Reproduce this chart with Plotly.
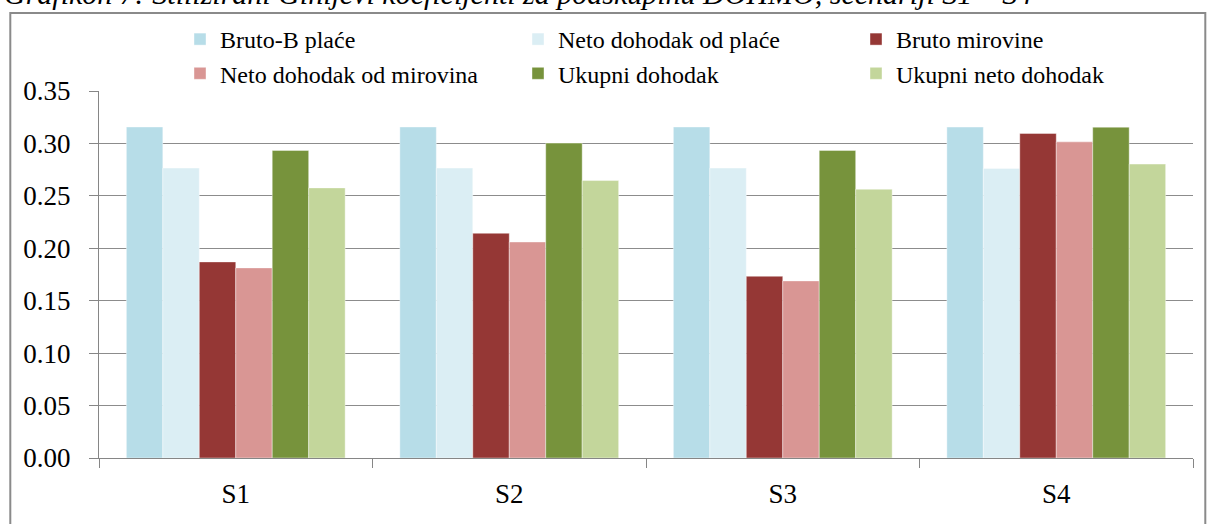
import plotly.graph_objects as go

categories = ["S1", "S2", "S3", "S4"]
series_names = [
    "Bruto-B plaće",
    "Neto dohodak od plaće",
    "Bruto mirovine",
    "Neto dohodak od mirovina",
    "Ukupni dohodak",
    "Ukupni neto dohodak",
]
bruto_b_place = [0.3157, 0.3157, 0.3157, 0.3156]
neto_place = [0.2765, 0.2765, 0.2765, 0.2762]
bruto_mirovine = [0.1870, 0.2143, 0.1733, 0.3095]
neto_mirovine = [0.1813, 0.2060, 0.1689, 0.3015]
ukupni = [0.2933, 0.3003, 0.2933, 0.3155]
ukupni_neto = [0.2576, 0.2646, 0.2563, 0.2803]
colors = ["#B7DDE8", "#DBEEF4", "#953735", "#D99694", "#77933C", "#C3D69B"]
title_text = "Grafikon 7: Stilizirani Ginijevi koeficijenti za podskupinu DOHMO, scenariji S1 – S4"

values = [bruto_b_place, neto_place, bruto_mirovine, neto_mirovine, ukupni, ukupni_neto]

fig = go.Figure()
for name, vals, col in zip(series_names, values, colors):
    fig.add_trace(go.Bar(
        x=categories, y=vals, name=name,
        marker=dict(color=col, line=dict(color="rgba(255,255,255,0.5)", width=0.8)),
    ))

W, H = 1212, 524
L, R, T, B = 98.7, 19.3, 90.7, 65.7
pw, ph = W - L - R, H - T - B

def px_x(x):
    return (x - L) / pw

def px_y(y):
    return 1 - (y - T) / ph

serif = "Liberation Serif"

fig.update_layout(
    width=W, height=H,
    margin=dict(l=L, r=R, t=T, b=B, autoexpand=False),
    paper_bgcolor="white", plot_bgcolor="white",
    barmode="group", bargap=0.2, bargroupgap=0,
    font=dict(family=serif, color="black", size=24),
    legend=dict(
        orientation="h", xref="container", yref="container",
        x=180 / W, y=1 - 17 / H, xanchor="left", yanchor="top",
        entrywidth=293, entrywidthmode="pixels", itemwidth=30,
        font=dict(family=serif, size=24, color="black"),
        tracegroupgap=0, bgcolor="rgba(0,0,0,0)", traceorder="normal",
    ),
    xaxis=dict(
        showline=True, linecolor="#868686", linewidth=1.3,
        ticks="outside", ticklen=9, tickcolor="#868686", tickwidth=1.3,
        tickson="boundaries", showgrid=False,
        tickfont=dict(family=serif, size=27, color="black"),
        ticklabelstandoff=11,
    ),
    yaxis=dict(
        range=[0, 0.35], dtick=0.05, tickformat=".2f",
        showline=True, linecolor="#868686", linewidth=1.3,
        ticks="outside", ticklen=9, tickcolor="#868686", tickwidth=1.3,
        showgrid=True, gridcolor="#8c8c8c", gridwidth=1.3,
        zeroline=False,
        tickfont=dict(family=serif, size=27, color="black"),
        ticklabelstandoff=13,
    ),
    shapes=[dict(
        type="rect", xref="paper", yref="paper",
        x0=px_x(10), x1=px_x(1205), y0=px_y(540), y1=px_y(12.5),
        line=dict(color="#8a8a8a", width=2), fillcolor="rgba(0,0,0,0)", layer="below",
    )],
    annotations=[dict(
        text=title_text, xref="paper", yref="paper",
        x=px_x(2), y=px_y(12), xanchor="left", yanchor="bottom",
        showarrow=False, font=dict(family=serif, size=30, color="black", style="italic"),
    )],
)

fig.write_html("out.html", config={"displayModeBar": False},
               post_script="document.body.style.margin='0';")
